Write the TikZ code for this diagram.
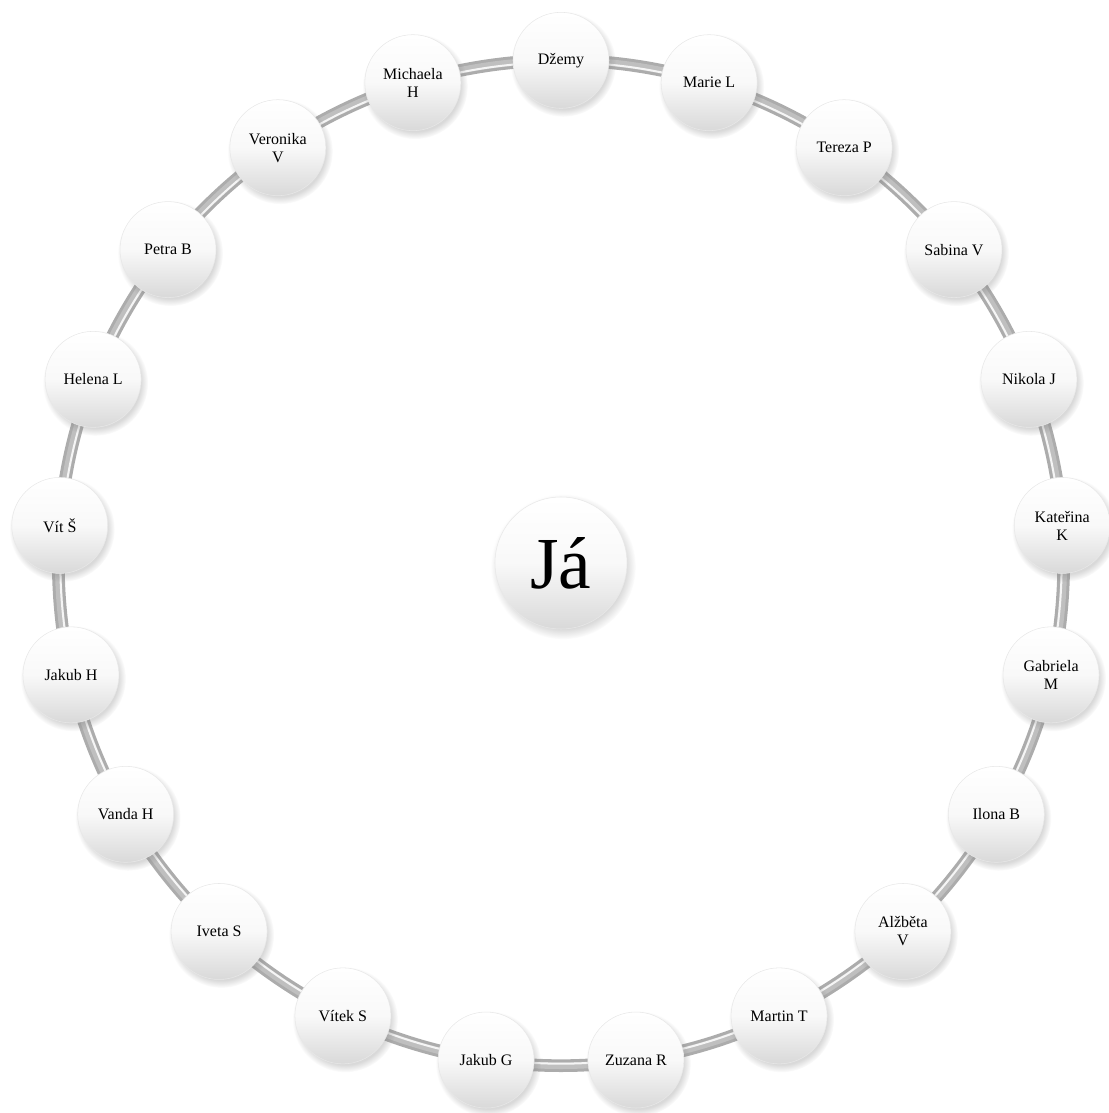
\documentclass[tikz,border=0pt]{standalone}
\usepackage{fontspec}
\setmainfont{Liberation Serif}
\usetikzlibrary{shadows}
\tikzset{
  friendball/.style={
    circle, minimum size=72pt, inner sep=1pt, align=center,
    font=\rmfamily\fontsize{12}{13.5}\selectfont,
    top color=white, bottom color=gray!30, middle color=gray!5,
    draw=gray!18, thin,
    circular drop shadow={shadow xshift=1.5pt, shadow yshift=-2.5pt,
      opacity=0.3}
  },
  meball/.style={
    friendball, minimum size=99pt, font=\rmfamily\fontsize{55}{60}\selectfont
  },
  ringtube/.style={line width=9.5pt, draw=gray!65},
  ringcore/.style={line width=5pt, draw=gray!50},
  ringshine/.style={line width=1.5pt, draw=white!92!gray},
}

\begin{document}
\begin{tikzpicture}
  \useasboundingbox (-420.75pt,-412.5pt) rectangle (410.25pt,422.25pt);
  \coordinate (hub) at (0,0);

  % Ring
  \draw[ringtube] (hub) circle[radius=377pt];
  \draw[ringcore] (hub) circle[radius=377pt];
  \draw[ringshine] (hub) circle[radius=375.5pt];

  % Friends round the ring
  \foreach \name [count=\i from 0] in {Džemy, Marie L, Tereza P, Sabina V,
      Nikola J, Kateřina\\K, Gabriela\\M, Ilona B, Alžběta\\V, Martin T,
      Zuzana R, Jakub G, Vítek S, Iveta S, Vanda H, Jakub H, Vít Š,
      Helena L, Petra B, Veronika\\V, Michaela\\H}
    \node[friendball] (friend\i) at ({90-\i*360/21}:377pt) {\name};

  % Me
  \node[meball] (me) at (hub) {Já};
\end{tikzpicture}
\end{document}
